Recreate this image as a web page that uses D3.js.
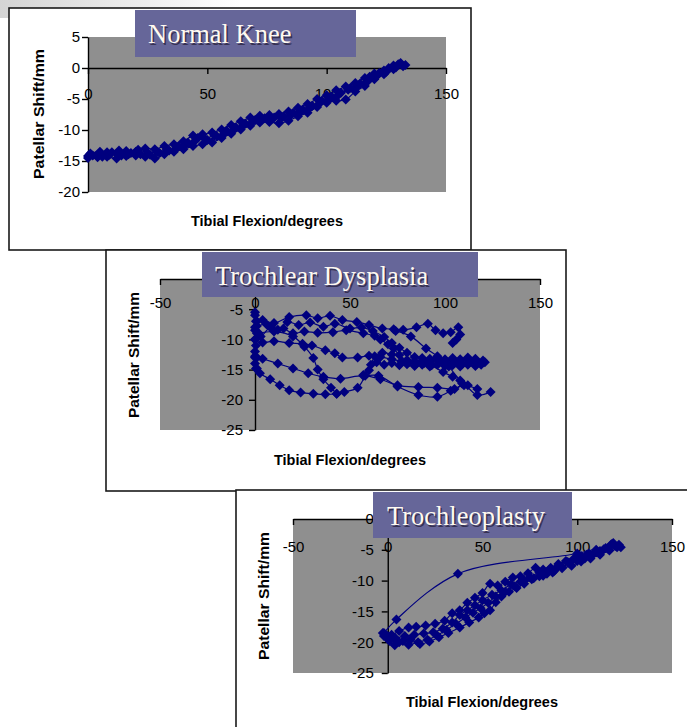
<!DOCTYPE html>
<html><head><meta charset="utf-8">
<script src="https://cdn.jsdelivr.net/npm/d3@7/dist/d3.min.js"></script>
<style>html,body{margin:0;padding:0;background:#fff;overflow:hidden}</style>
</head><body>
<script>
// ---------- DATA ----------
const panelTitles = ["Normal Knee", "Trochlear Dysplasia", "Trochleoplasty"];
const xAxisTitle = "Tibial Flexion/degrees";
const yAxisTitle = "Patellar Shift/mm";

const xTicksNormal = [0, 50, 100, 150];
const yTicksNormal = [5, 0, -5, -10, -15, -20];
const xTicksWide = [-50, 0, 50, 100, 150];
const yTicksWide = [0, -5, -10, -15, -20, -25];
const yTicksDysplasiaShown = [-5, -10, -15, -20, -25]; // the 0 label is hidden behind the title box

// Normal knee
const normalA = [[0,-14.2],[4,-14.0],[8,-13.6],[12,-13.8],[16,-13.4],[20,-13.5],[24,-13.0],[28,-13.1],[32,-12.6],[36,-12.3],[40,-11.8],[44,-10.9],[48,-10.7],[52,-10.4],[56,-9.9],[60,-9.2],[64,-8.6],[68,-8.0],[72,-7.7],[76,-7.6],[80,-7.4],[84,-7.0],[88,-6.4],[92,-5.8],[96,-5.0],[100,-4.4],[104,-3.6],[108,-3.0],[112,-2.4],[116,-1.6],[120,-0.9],[124,-0.4],[128,0.4],[131,0.8]];
const normalB = [[0,-14.5],[4,-14.4],[8,-14.3],[12,-14.6],[16,-14.2],[20,-14.1],[24,-14.3],[28,-14.6],[32,-13.9],[36,-13.5],[40,-13.1],[44,-12.6],[48,-12.3],[52,-12.0],[56,-11.3],[60,-10.6],[64,-9.9],[68,-9.3],[72,-8.8],[76,-8.7],[80,-8.9],[84,-8.5],[88,-7.8],[92,-7.2],[96,-6.3],[100,-5.6],[104,-5.3],[108,-5.1],[112,-3.8],[116,-2.9],[120,-1.8],[124,-1.0],[128,-0.2],[132,0.3]];
const normalC = [[1,-13.8],[5,-13.5],[9,-14.0],[13,-13.3],[17,-13.9],[21,-13.2],[25,-13.7],[29,-13.5],[33,-13.2],[37,-12.9],[41,-12.3],[45,-11.7],[49,-11.4],[53,-10.9],[57,-10.6],[61,-10.0],[65,-9.2],[69,-8.6],[73,-8.3],[77,-8.2],[81,-8.1],[85,-7.6],[89,-7.0],[93,-6.4],[97,-5.7],[101,-4.9],[105,-4.3],[109,-3.5],[113,-2.9],[117,-2.2],[121,-1.3],[125,-0.6],[129,0.1],[133,0.5]];
const normalD = [[2,-14.1],[6,-14.3],[10,-13.6],[14,-14.1],[18,-13.7],[22,-13.9],[26,-14.0],[30,-13.7],[34,-13.3],[38,-12.6],[42,-12.1],[46,-11.3],[50,-11.6],[54,-11.0],[58,-10.1],[62,-9.6],[66,-9.0],[70,-8.4],[74,-8.1],[78,-8.0],[82,-7.8],[86,-7.2],[90,-6.7],[94,-6.1],[98,-5.3],[102,-4.6],[106,-4.0],[110,-3.2],[114,-2.5],[118,-1.4],[122,-0.8],[126,0.0],[130,0.6]];

// Trochlear dysplasia
const dysA = [[0,-5.5],[1,-7],[4,-6.8],[10,-7.3],[18,-6.3],[27,-6.0],[33,-6.5],[39.5,-6.1],[46,-6.8],[53.6,-7.1],[60,-7.6],[67,-8.2],[73,-8.3],[78,-8.4],[85,-8.0],[91,-7.4],[95,-8.5],[99,-9.0],[103,-8.8],[107,-8.0],[108,-9.2],[106,-10.0],[104,-10.6]];
const dysB = [[0,-8.5],[3,-9.5],[8,-8.0],[15,-8.2],[20,-9.0],[26,-8.7],[33,-8.9],[41,-8.8],[48,-8.5],[57,-9.0],[63,-9.4],[66,-10.0],[70,-10.8],[73,-11.5],[76,-12.6],[80,-13.4],[84,-13.6],[88,-13.5],[92,-13.7],[96,-13.4],[100,-13.6],[104,-13.5],[108,-13.7],[112,-13.4],[116,-13.2],[120,-13.5]];
const dysC = [[121,-13.8],[117,-14.0],[113,-13.8],[109,-14.1],[105,-13.9],[101,-14.0],[97,-13.8],[93,-14.1],[89,-13.9],[85,-14.0],[81,-13.8],[77,-13.6],[72,-13.3],[66,-12.9],[60,-12.7],[54,-13.0],[46,-13.0],[42,-12.3],[37,-11.8],[30,-11.0],[25,-10.7],[18,-10.6],[10,-10.3],[4,-10.5],[0,-10.0]];
const dysD = [[0,-13.0],[1,-14.8],[2.6,-15.6],[8,-16.6],[13,-17.6],[18,-18.4],[24,-18.8],[30.7,-19.0],[37,-19.1],[43,-19.0],[47,-18.7],[54,-18.0],[58,-16.0],[61,-14.2],[63,-12.8],[67,-12.2],[72,-12.5]];
const dysE = [[0,-12.8],[4,-13.2],[12,-14.0],[20,-14.8],[28,-15.6],[36,-16.2],[45,-16.5],[57,-16.0],[66,-16.6],[75,-17.6],[86,-17.9],[96,-18.0],[105,-18.2],[110,-17.6],[117,-19.2],[124,-18.7]];
const dysF = [[2,-9.0],[10,-8.7],[20,-9.5],[26,-11.2],[30.7,-13.1],[33,-15.0],[36,-16.6],[40,-18.0],[43,-19.0]];
const dysG = [[60,-15.1],[57,-15.9],[65,-16.0],[75,-17.8],[86,-19.2],[96,-19.5],[103,-18.5],[109,-17.3],[104,-16.2],[99,-15.4],[93,-14.3]];
const dysH = [[74,-8.6],[82,-9.5],[90,-11.5],[96,-12.8],[102,-14.5],[108,-16.8],[112,-17.6],[117,-18.2]];
const dysI = [[0,-6],[0.5,-7],[0,-8],[1,-9],[0,-10],[0.5,-11],[0,-12],[1,-13],[0,-14],[0.5,-14.8]];
const dysJ = [[1,-7.8],[6,-7.5],[12,-8.4],[17,-7.1],[23,-7.6],[29,-7.2],[36,-7.9],[42,-7.4],[50,-8.2],[56,-8.0],[62,-8.6],[68,-9.6],[72,-10.6],[76,-11.4],[80,-12.2],[84,-12.9],[88,-13.1],[92,-13.2],[96,-13.0],[100,-13.3],[104,-13.1],[108,-13.3],[112,-13.0],[116,-13.6],[119,-14.2]];
const dysK = [[64,-13.8],[68,-14.2],[72,-13.9],[76,-14.3],[80,-14.1],[84,-14.4],[88,-14.2],[92,-14.5],[96,-14.2],[100,-14.4],[104,-14.3],[108,-14.5],[112,-14.2],[116,-14.4]];

// Trochleoplasty
const plastyA = [[-2.6,-18.5],[0,-19.5],[3.7,-20.5],[8,-19.8],[12,-19.6],[17,-20.3],[22,-19.9],[27,-19.2],[32,-18.5],[38,-17.6],[43,-16.8],[48,-16.0],[51,-15.3],[54,-14.8],[57,-13.5],[60,-12.6],[64,-11.8],[68,-11.2],[72,-10.5],[76,-9.8],[80,-9.3],[84,-8.9],[88,-8.4],[92,-7.8],[96,-7.2],[100,-6.8],[104,-6.4],[108,-5.8],[112,-5.2],[116,-4.8],[120,-4.4],[123,-4.6]];
const plastyB = [[122,-4.2],[118,-4.1],[114,-4.9],[110,-5.4],[106,-5.6],[102,-6.0],[98,-6.5],[94,-6.8],[90,-7.3],[86,-7.9],[82,-8.2],[78,-7.9],[74,-8.8],[70,-9.3],[66,-9.5],[62,-10.2],[58,-10.8],[54,-10.5],[50,-12.0],[46,-12.8],[42,-13.6],[38,-14.8],[34,-15.3],[30,-16.5],[25,-17.0],[20,-17.3],[15,-17.5],[11,-17.6],[6,-18.2],[2,-18.8],[-2,-19.0]];
const plastyC = [[0,-19.0],[4,-19.3],[9,-19.0],[14,-18.8],[19,-18.6],[24,-18.4],[29,-17.8],[34,-16.8],[38,-15.6],[42,-14.8],[46,-14.0],[50,-13.2],[55,-12.3],[60,-11.6],[65,-10.6],[70,-10.2],[75,-9.4],[80,-8.7],[85,-8.3],[90,-7.6],[95,-7.0],[100,-6.2],[105,-5.8],[110,-5.0],[115,-4.7],[119,-3.9]];
const plastyD = [[1,-19.8],[6,-20.0],[11,-20.4],[16,-20.0],[21,-19.6],[26,-18.9],[31,-18.0],[36,-17.0],[41,-16.0],[45,-15.2],[49,-14.5],[53,-13.6],[57,-12.6],[62,-11.8],[67,-10.9],[72,-10.0],[77,-9.6],[82,-9.2],[87,-8.7],[92,-8.0],[97,-7.6],[102,-6.9],[107,-6.4],[112,-5.8],[117,-5.1],[121,-4.6]];
const plastyE = [[-2,-18.5],[4.6,-16.3],[37,-8.9],[100,-5.6],[118,-4.2]];

// ---------- DRAW ----------
const W = 687, H = 727;
const svg = d3.select("body").append("svg").attr("width", W).attr("height", H);

const defs = svg.append("defs");
const grad = defs.append("linearGradient").attr("id", "bgGrad").attr("x1", "0").attr("x2", "1").attr("y1", "0").attr("y2", "0");
grad.append("stop").attr("offset", "0").attr("stop-color", "#d4d4d4");
grad.append("stop").attr("offset", "1").attr("stop-color", "#ffffff");
svg.append("rect").attr("x", 0).attr("y", 0).attr("width", 240).attr("height", 18).attr("fill", "url(#bgGrad)");

const SANS = "'Liberation Sans', Arial, sans-serif";
const SERIF = "'Liberation Serif', 'Times New Roman', serif";
const NAVY = "#00007f";
const diamond = "M0,-5L5,0L0,5L-5,0Z";

const panels = [
  { title: panelTitles[0], series: [normalA, normalB, normalC, normalD],
    box: [9, 8, 462, 242], plot: [88, 446, 37, 192], xd: [0, 150], yd: [-20, 5],
    xt: xTicksNormal, yt: yTicksNormal, ytLabels: yTicksNormal, xpad: 14, ypad: 2,
    xTitle: [267, 226, 152], yTitle: [38, 114, 130],
    tbox: [135, 10, 221, 47], ttext: [148, 43] },
  { title: panelTitles[1], series: [dysA, dysB, dysC, dysD, dysE, dysF, dysG, dysH, dysI, dysJ, dysK],
    box: [106, 250, 460, 241], plot: [160, 540, 279, 430], xd: [-50, 150], yd: [-25, 0],
    xt: xTicksWide, yt: yTicksWide, ytLabels: yTicksDysplasiaShown, xpad: 12, ypad: 6,
    xTitle: [350, 465, 152], yTitle: [133, 355, 126],
    tbox: [202, 252, 276, 45], ttext: [215, 285] },
  { title: panelTitles[2], series: [plastyA, plastyB, plastyC, plastyD, plastyE],
    box: [236, 490, 480, 260], plot: [293, 672, 519, 673], xd: [-50, 150], yd: [-25, 0],
    xt: xTicksWide, yt: yTicksWide, ytLabels: yTicksWide, xpad: 16, ypad: 8,
    xTitle: [482, 707, 152], yTitle: [263, 596, 128],
    tbox: [373, 492, 199, 46], ttext: [387, 525] }
];

panels.forEach(p => {
  const g = svg.append("g");
  g.append("rect").attr("x", p.box[0]).attr("y", p.box[1]).attr("width", p.box[2]).attr("height", p.box[3])
    .attr("fill", "#fff").attr("stroke", "#1a1a1a").attr("stroke-width", 1.6);

  const x = d3.scaleLinear().domain(p.xd).range([p.plot[0], p.plot[1]]);
  const y = d3.scaleLinear().domain(p.yd).range([p.plot[3], p.plot[2]]);

  g.append("rect").attr("x", p.plot[0]).attr("y", p.plot[2])
    .attr("width", p.plot[1] - p.plot[0]).attr("height", p.plot[3] - p.plot[2]).attr("fill", "#8f8f8f");

  const fmt = d => String(d);
  const xa = d3.axisBottom(x).tickValues(p.xt).tickSize(6).tickSizeOuter(0).tickPadding(p.xpad).tickFormat(fmt);
  const ya = d3.axisLeft(y).tickValues(p.yt).tickSize(6).tickSizeOuter(0).tickPadding(p.ypad)
    .tickFormat(d => p.ytLabels.includes(d) ? String(d) : "");
  const gx = g.append("g").attr("transform", `translate(0,${y(0)})`).call(xa);
  const gy = g.append("g").attr("transform", `translate(${x(0)},0)`).call(ya);
  gy.selectAll("text").filter(function () { return this.textContent === ""; }).remove();
  [gx, gy].forEach(a => {
    a.selectAll("path,line").attr("stroke", "#000").attr("stroke-width", 1.4);
    a.selectAll("text").attr("fill", "#000").style("font-family", SANS).style("font-size", "15px");
  });

  const line = d3.line().x(d => x(d[0])).y(d => y(d[1])).curve(d3.curveCatmullRom.alpha(0.5));
  p.series.forEach(s => {
    g.append("path").datum(s).attr("d", line).attr("fill", "none").attr("stroke", NAVY).attr("stroke-width", 1.2);
    g.selectAll(null).data(s).enter().append("path")
      .attr("d", diamond).attr("transform", d => `translate(${x(d[0])},${y(d[1])})`).attr("fill", NAVY);
  });

  g.append("text").attr("x", p.xTitle[0]).attr("y", p.xTitle[1]).attr("text-anchor", "middle")
    .attr("textLength", p.xTitle[2]).attr("lengthAdjust", "spacingAndGlyphs")
    .style("font-family", SANS).style("font-weight", "bold").style("font-size", "15px").attr("fill", "#000")
    .text(xAxisTitle);
  g.append("text").attr("transform", `translate(${p.yTitle[0]},${p.yTitle[1]}) rotate(-90)`)
    .attr("text-anchor", "middle").attr("dominant-baseline", "central")
    .attr("textLength", p.yTitle[2]).attr("lengthAdjust", "spacingAndGlyphs")
    .style("font-family", SANS).style("font-weight", "bold").style("font-size", "15.5px").attr("fill", "#000")
    .text(yAxisTitle);

  g.append("rect").attr("x", p.tbox[0]).attr("y", p.tbox[1]).attr("width", p.tbox[2]).attr("height", p.tbox[3])
    .attr("fill", "#666699");
  g.append("text").attr("x", p.ttext[0] + 1.5).attr("y", p.ttext[1] + 1.5)
    .style("font-family", SERIF).style("font-size", "26.5px").attr("fill", "#2b2440").attr("opacity", 0.8).text(p.title);
  g.append("text").attr("x", p.ttext[0]).attr("y", p.ttext[1])
    .style("font-family", SERIF).style("font-size", "26.5px").attr("fill", "#fffaf0").text(p.title);
});
</script>
</body></html>
